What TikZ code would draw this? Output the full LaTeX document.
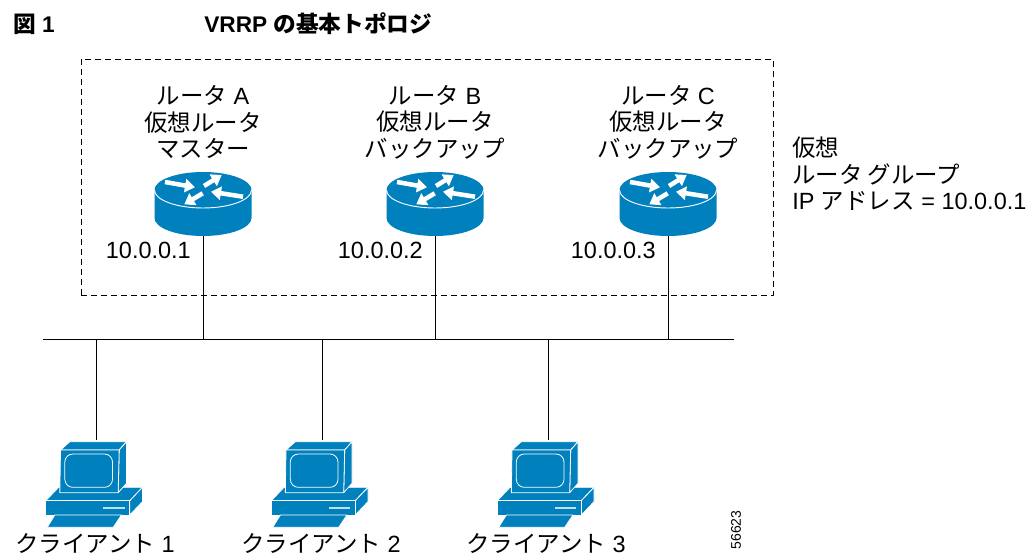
\documentclass[tikz,border=0pt]{standalone}
\usepackage{fontspec}
\setmainfont{Liberation Sans}
\newfontfamily\jp{Noto Sans CJK JP}
\usetikzlibrary{arrows.meta}
\definecolor{devblue}{HTML}{0080BC}
\tikzset{
	lbl/.style={font=\fontsize{17.6}{20}\selectfont,inner sep=0pt,align=center},
	rtarrow/.style={draw=white,line width=3.4pt,-{Triangle[width=10pt,length=7.5pt]}},
	router/.pic={
		\fill[devblue] (-48.5,0) -- (-48.5,28) arc[start angle=180,end angle=0,x radius=48.5,y radius=18]
			-- (48.5,0) -- cycle;
		\fill[devblue] (0,0) ellipse[x radius=48.5,y radius=18];
		\draw[white,line width=.7pt] (-48.5,0) arc[start angle=180,end angle=0,x radius=48.5,y radius=18];
		\draw[rtarrow] (-38,-8)--(-8,-2.7);
		\draw[rtarrow] (1,-4)--(18.7,-15);
		\draw[rtarrow] (40,6.7)--(8,1.7);
		\draw[rtarrow] (-.3,3.3)--(-18.7,14.3);
	},
	client/.pic={
		\begin{scope}[x=.25pt,y=-.25pt,shift={(-200,-30)},draw=white,line width=.6pt,line join=round]
			\filldraw[fill=devblue] (48,212)--(86,172)--(338,172)--(300,212)--cycle;
			\filldraw[fill=devblue] (300,212)--(338,172)--(338,215)--(300,255)--cycle;
			\filldraw[fill=devblue] (48,212)--(300,212)--(300,255)--(48,255)--cycle;
			\filldraw[fill=devblue] (92,60)--(120,35)--(290,35)--(268,60)--cycle;
			\filldraw[fill=devblue] (268,60)--(290,35)--(290,160)--(265,188)--cycle;
			\filldraw[fill=devblue] (92,60)--(268,60)--(265,188)--(90,188)--cycle;
			\draw[rounded corners=6pt] (105,72) rectangle (248,172);
			\fill[white!75!devblue] (220,232) rectangle (285,238);
			\filldraw[fill=devblue] (75,255)--(275,255)--(250,292)--(52,292)--cycle;
		\end{scope}
	}
}
\begin{document}
\begin{tikzpicture}[x=.75pt,y=-.75pt,line join=round]
	\useasboundingbox (0,0) rectangle (1031,556);
	% title
	\node[font=\fontsize{17}{18}\selectfont\bfseries,inner sep=0pt,anchor=west] (fignum) at (13,24) {{\jp 図}\ 1};
	\node[font=\fontsize{17}{18}\selectfont\bfseries,inner sep=0pt,anchor=west] (figtitle) at (204,24) {VRRP {\jp の基本トポロジ}};
	% group box
	\node[draw,dashed,line width=.5pt,dash pattern=on 4.5pt off 3pt,minimum width=519pt,minimum height=177pt,inner sep=0pt,anchor=north west] (group) at (81,59) {};
	% bus
	\coordinate (busl) at (43,339);
	\coordinate (busr) at (734,339);
	\draw[line width=.6pt] (busl)--(busr);
	% routers
	\foreach \n/\x/\nm/\role/\ip in {a/203/A/マスター/1,b/435/B/バックアップ/2,c/668/C/バックアップ/3}{
		\node[lbl] (t\n) at (\x,122) {{\jp ルータ}\ \nm\\{\jp 仮想ルータ}\\{\jp\role}};
		\pic at (\x,190) {router};
		\coordinate (r\n) at (\x,236);
		\node[lbl,anchor=east] (ip\n) at (\x-12,250) {10.0.0.\ip};
		\draw[line width=.6pt] (r\n)--(r\n|-busl);
	}
	\node[lbl,align=left,anchor=west] (vgroup) at (792,174) {{\jp 仮想}\\{\jp ルータ グループ}\\IP {\jp アドレス} = 10.0.0.1};
	% clients
	\foreach \n/\x/\lx/\i in {a/96.5/95/1,b/322/321/2,c/548/546/3}{
		\coordinate (c\n) at (\x,440);
		\pic at (c\n) {client};
		\node[lbl] (cl\n) at (\lx,544) {{\jp クライアント}\ \i};
		\draw[line width=.6pt] (c\n|-busl)--(c\n);
	}
	\node[font=\fontsize{10.5}{12}\selectfont,inner sep=0pt,rotate=90] (figid) at (736,530) {56623};
\end{tikzpicture}
\end{document}
